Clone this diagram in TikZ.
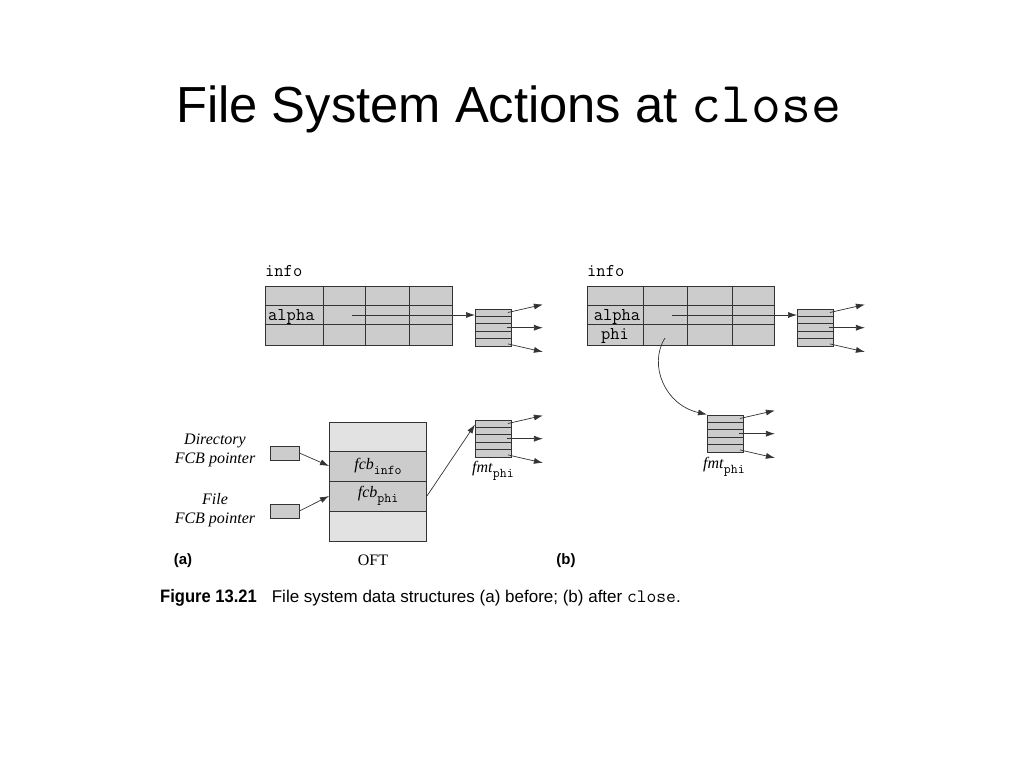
\documentclass[tikz,border=0pt]{standalone}
\usepackage{fontspec}
\setmainfont{Liberation Serif}
\setsansfont{Liberation Sans}
\newfontfamily\capfont[FakeStretch=0.92]{Liberation Sans}
\usetikzlibrary{arrows.meta}
\definecolor{cGray}{HTML}{CCCCCC}
\definecolor{cLight}{HTML}{E2E2E2}
\definecolor{cLine}{HTML}{333333}

\begin{document}
\begin{tikzpicture}[x=1pt,y=-1pt,
    ptr/.style={-{Latex[length=9pt,width=6pt]},cLine,line width=0.7pt},
    grid/.style={draw=cLine,line width=0.9pt},
    fmtbox/.style={draw=cLine,fill=cGray,line width=0.9pt,minimum width=36pt,minimum height=37.5pt,inner sep=0pt,anchor=north west},
    oftrow/.style={draw=cLine,line width=0.9pt,minimum width=97pt,minimum height=30pt,inner sep=0pt,font=\fontsize{16}{19}\selectfont},
    ptrbox/.style={draw=cLine,fill=cGray,line width=0.9pt,minimum width=29pt,minimum height=14pt,inner sep=0pt},
    lbl/.style={font=\fontsize{16}{19}\selectfont\itshape,align=center,inner sep=0pt},
    tt/.style={font=\fontsize{18}{21}\selectfont\ttfamily,inner sep=0pt}]
  \useasboundingbox (0,0) rectangle (1024,768);
  \fill[white] (0,0) rectangle (1024,768);

  % title
  \node[anchor=base west,inner sep=0pt] (title) at (176,122) {\fontsize{50.7}{60}\selectfont\sffamily File System Actions at {\fontsize{58}{60}\selectfont\ttfamily close}};

  % (a) directory table
  \filldraw[grid,fill=cGray] (265,286) rectangle (452,345);
  \foreach \x in {323,365,409} \draw[grid] (\x,286) -- (\x,345);
  \foreach \y in {305,324} \draw[grid] (265,\y) -- (452,\y);
  \node[tt,anchor=base west] (infoA) at (265,276) {info};
  \node[tt,anchor=base west] (alphaA) at (268,320) {alpha};
  \coordinate (sA) at (352,315);

  % (b) directory table
  \filldraw[grid,fill=cGray] (587,286) rectangle (774,345);
  \foreach \x in {643,687,732} \draw[grid] (\x,286) -- (\x,345);
  \foreach \y in {305,324} \draw[grid] (587,\y) -- (774,\y);
  \node[tt,anchor=base west] (infoB) at (587,276) {info};
  \node[tt,anchor=base] (alphaB) at (617,320) {alpha};
  \node[tt,anchor=base] (phiB) at (615,339) {phi};
  \coordinate (sB) at (672,315);
  \coordinate (sPhi) at (665,338);

  % fmt boxes
  \foreach \n/\x/\y in {fA/475/308.5, fB/475/419.5, fC/797/308.5, fD/707/414.5} {
    \node[fmtbox] (\n) at (\x,\y) {};
    \foreach \k in {1,...,4} \draw[grid] (\x,\y+7.5*\k) -- (\x+36,\y+7.5*\k);
    \draw[ptr] ([shift={(-4,4)}]\n.north east) -- ++(35,-8);
    \draw[ptr] ([shift={(-5,0)}]\n.east) -- ++(36,0);
    \draw[ptr] ([shift={(-4,-3)}]\n.south east) -- ++(35,8);
  }
  \node[font=\fontsize{16}{19}\selectfont] (lfB) at (493,471) {\textit{fmt}{\fontsize{13.5}{14}\selectfont\ttfamily\raisebox{-5pt}{phi}}};
  \node[font=\fontsize{16}{19}\selectfont] (lfD) at (724,467) {\textit{fmt}{\fontsize{13.5}{14}\selectfont\ttfamily\raisebox{-5pt}{phi}}};

  \draw[ptr] (sA) -- (sA -| fA.west);
  \draw[ptr] (sB) -- (sB -| fC.west);
  \draw[ptr] (sPhi) .. controls (648,365) and (665,405) .. (fD.north west);

  % OFT
  \node[oftrow,fill=cLight] (oTop) at (378,437) {};
  \node[oftrow,fill=cGray] (oInfo) at (378,466) {\textit{fcb}{\fontsize{13.5}{14}\selectfont\ttfamily\raisebox{-5pt}{info}}};
  \node[oftrow,fill=cGray] (oPhi) at (378,496) {\textit{fcb}{\fontsize{13.5}{14}\selectfont\ttfamily\raisebox{-5pt}{phi}}};
  \node[oftrow,fill=cLight] (oBot) at (378,526) {};

  \node[ptrbox] (pDir) at (284.5,453) {};
  \node[ptrbox] (pFile) at (284.5,511) {};
  \node[lbl] (lDir) at (215,450) {Directory\\FCB pointer};
  \node[lbl] (lFile) at (215,510) {File\\FCB pointer};
  \draw[ptr] (pDir.east) -- (oInfo.west);
  \draw[ptr] (pFile.east) -- (oPhi.west);
  \draw[ptr] (oPhi.east) -- ([yshift=-5pt]fB.north west);

  % captions
  \node[font=\fontsize{15}{18}\selectfont\sffamily\bfseries] (capA) at (183,561) {(a)};
  \node[font=\fontsize{16}{19}\selectfont] (oft) at (373,560) {OFT};
  \node[font=\fontsize{15}{18}\selectfont\sffamily\bfseries] (capB) at (566,561) {(b)};
  \node[anchor=base west,inner sep=0pt] (fig) at (160,602) {{\capfont\bfseries\fontsize{18}{20}\selectfont Figure 13.21}\hspace{15pt}{\sffamily\fontsize{17}{20}\selectfont File system data structures (a) before; (b) after {\fontsize{19}{20}\selectfont\ttfamily close}.}};
\end{tikzpicture}
\end{document}
